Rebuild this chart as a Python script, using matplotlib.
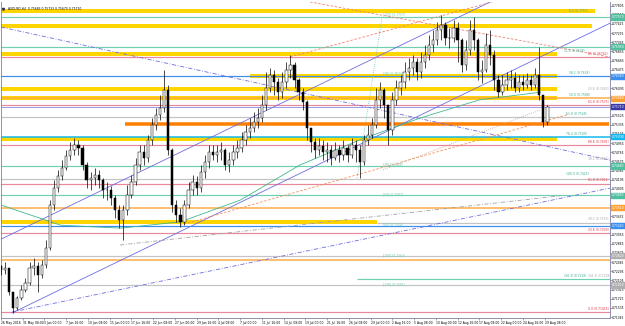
import matplotlib
matplotlib.use('Agg')
import matplotlib.pyplot as plt
import matplotlib.transforms as mtrans
import numpy as np

# ---------------- data ----------------
title_text = "AUDUSD,H4  0.75683 0.75733 0.75670 0.75710"

time_labels = ["26 May 2016", "31 May 08:00", "3 Jun 00:00", "7 Jun 16:00", "10 Jun 08:00",
               "15 Jun 00:00", "17 Jun 16:00", "22 Jun 08:00", "27 Jun 00:00", "29 Jun 16:00",
               "4 Jul 08:00", "7 Jul 00:00", "11 Jul 16:00", "14 Jul 08:00", "19 Jul 00:00",
               "21 Jul 16:00", "26 Jul 08:00", "29 Jul 00:00", "2 Aug 16:00", "5 Aug 08:00",
               "10 Aug 00:00", "12 Aug 16:00", "17 Aug 08:00", "22 Aug 00:00", "24 Aug 16:00",
               "29 Aug 08:00"]
bars_per_label = 16
bars_per_candle = 3

first_open = 0.7240
closes = [0.7232, 0.7236, 0.7187, 0.7153, 0.7174, 0.7191, 0.7205, 0.7236, 0.7240, 0.7222,
          0.7242, 0.7278, 0.7367, 0.7402, 0.7427, 0.7444, 0.7469, 0.7481, 0.7491, 0.7485,
          0.7450, 0.7419, 0.7423, 0.7429, 0.7419, 0.7398, 0.7398, 0.7381, 0.7357, 0.7336,
          0.7357, 0.7388, 0.7415, 0.7450, 0.7477, 0.7464, 0.7502, 0.7533, 0.7554, 0.7568,
          0.7605, 0.7481, 0.7367, 0.7346, 0.7332, 0.7367, 0.7398, 0.7415, 0.7402, 0.7435,
          0.7456, 0.7477, 0.7471, 0.7477, 0.7481, 0.7450, 0.7460, 0.7477, 0.7485, 0.7502,
          0.7518, 0.7527, 0.7539, 0.7547, 0.7574, 0.7610, 0.7637, 0.7622, 0.7601, 0.7622,
          0.7647, 0.7657, 0.7626, 0.7601, 0.7581, 0.7527, 0.7498, 0.7481, 0.7489, 0.7477,
          0.7481, 0.7464, 0.7481, 0.7471, 0.7485, 0.7471, 0.7491, 0.7481, 0.7456, 0.7502,
          0.7512, 0.7533, 0.7585, 0.7605, 0.7574, 0.7522, 0.7585, 0.7610, 0.7622, 0.7643,
          0.7651, 0.7664, 0.7643, 0.7664, 0.7678, 0.7699, 0.7709, 0.7730, 0.7740, 0.7713,
          0.7713, 0.7734, 0.7709, 0.7657, 0.7688, 0.7730, 0.7709, 0.7643, 0.7647, 0.7699,
          0.7678, 0.7626, 0.7601, 0.7616, 0.7626, 0.7630, 0.7610, 0.7622, 0.7616, 0.7626,
          0.7616, 0.7637, 0.7595, 0.7539, 0.7571]
highs = [0.7242, 0.7249, 0.7236, 0.7187, 0.7178, 0.7201, 0.7216, 0.7249, 0.7257, 0.7249,
         0.7253, 0.7294, 0.7377, 0.7419, 0.7440, 0.7460, 0.7481, 0.7498, 0.7506, 0.7502,
         0.7491, 0.7456, 0.7435, 0.7444, 0.7440, 0.7423, 0.7415, 0.7406, 0.7388, 0.7367,
         0.7367, 0.7408, 0.7429, 0.7464, 0.7491, 0.7491, 0.7512, 0.7547, 0.7568, 0.7595,
         0.7647, 0.7616, 0.7485, 0.7377, 0.7361, 0.7377, 0.7415, 0.7429, 0.7427, 0.7450,
         0.7471, 0.7491, 0.7491, 0.7491, 0.7498, 0.7485, 0.7477, 0.7491, 0.7502, 0.7518,
         0.7533, 0.7547, 0.7560, 0.7568, 0.7595, 0.7643, 0.7651, 0.7647, 0.7630, 0.7643,
         0.7664, 0.7678, 0.7664, 0.7630, 0.7610, 0.7585, 0.7527, 0.7506, 0.7506, 0.7502,
         0.7498, 0.7491, 0.7498, 0.7491, 0.7502, 0.7491, 0.7506, 0.7502, 0.7491, 0.7512,
         0.7533, 0.7547, 0.7610, 0.7622, 0.7610, 0.7574, 0.7601, 0.7626, 0.7637, 0.7664,
         0.7672, 0.7678, 0.7672, 0.7684, 0.7699, 0.7720, 0.7730, 0.7746, 0.7761, 0.7746,
         0.7734, 0.7751, 0.7746, 0.7713, 0.7709, 0.7751, 0.7757, 0.7713, 0.7668, 0.7724,
         0.7730, 0.7688, 0.7637, 0.7637, 0.7643, 0.7647, 0.7643, 0.7637, 0.7637, 0.7641,
         0.7637, 0.7651, 0.7695, 0.7595, 0.7574]
lows = [0.7222, 0.7224, 0.7180, 0.7143, 0.7149, 0.7170, 0.7187, 0.7201, 0.7222, 0.7187,
        0.7216, 0.7236, 0.7274, 0.7357, 0.7394, 0.7419, 0.7440, 0.7460, 0.7471, 0.7471,
        0.7440, 0.7402, 0.7398, 0.7408, 0.7402, 0.7381, 0.7377, 0.7367, 0.7340, 0.7319,
        0.7294, 0.7346, 0.7381, 0.7408, 0.7440, 0.7450, 0.7456, 0.7491, 0.7522, 0.7544,
        0.7560, 0.7471, 0.7352, 0.7332, 0.7321, 0.7325, 0.7361, 0.7388, 0.7388, 0.7394,
        0.7423, 0.7444, 0.7460, 0.7456, 0.7460, 0.7440, 0.7435, 0.7450, 0.7464, 0.7477,
        0.7491, 0.7506, 0.7518, 0.7527, 0.7539, 0.7564, 0.7601, 0.7595, 0.7585, 0.7589,
        0.7610, 0.7630, 0.7610, 0.7585, 0.7564, 0.7502, 0.7477, 0.7464, 0.7471, 0.7460,
        0.7456, 0.7450, 0.7460, 0.7456, 0.7460, 0.7456, 0.7464, 0.7456, 0.7423, 0.7450,
        0.7491, 0.7506, 0.7527, 0.7568, 0.7547, 0.7491, 0.7512, 0.7574, 0.7595, 0.7610,
        0.7626, 0.7637, 0.7626, 0.7630, 0.7651, 0.7668, 0.7684, 0.7699, 0.7709, 0.7699,
        0.7693, 0.7705, 0.7664, 0.7643, 0.7647, 0.7678, 0.7688, 0.7626, 0.7620, 0.7643,
        0.7657, 0.7605, 0.7591, 0.7595, 0.7605, 0.7610, 0.7601, 0.7601, 0.7605, 0.7610,
        0.7605, 0.7610, 0.7585, 0.7529, 0.7533]

# slow moving average (bar, price)
ma_bars = [0, 44, 88, 132, 176, 220, 264, 308, 352, 397]
ma_prices = [0.7367, 0.7325, 0.7319, 0.7332, 0.7377, 0.7450, 0.7502, 0.7547, 0.7585, 0.7601]

# price axis
price_tick_start = 0.71345
price_tick_step = 0.0019
y_range = (0.71326, 0.77880)
x_range = (0.0, 448.1)

# horizontal levels  (price, start bar, end bar)
yellow_bands = [(0.7770, 0, 437), (0.7738, 0, 435), (0.7681, 0, 409), (0.7634, 183, 409),
                (0.7607, 0, 409), (0.7588, 0, 409), (0.7504, 0, 409), (0.7331, 0, 277)]
orange_band = [(0.7534, 91, 447)]
teal_levels = [(0.7757, 0, 449), (0.7695, 0, 449), (0.7448, 0, 449), (0.7387, 0, 449),
               (0.7213, 262, 449)]
pink_levels = [0.7674, 0.7574, 0.7491, 0.7411, 0.7309, 0.7145]
blue_levels = [0.7634, 0.7324]
cyan_levels = [0.7509]
orange_levels = [0.7588, 0.7361, 0.7253]
gray_levels = [(0.7550, 0, 449), (0.7421, 0, 449), (0.7262, 0, 449), (0.7201, 0, 449),
               (0.7330, 277, 449)]
current_price = 0.7571

# boxes on the price scale
teal_boxes = [0.7757, 0.7695, 0.7448, 0.7387]
blue_boxes = [0.7634, 0.7324]
orange_boxes = [0.7588, 0.7361]
gray_boxes = [0.7262, 0.7201]
cyan_boxes = [0.7509]

# trend lines ((bar, price), (bar, price))
dashdot_blue = [((0, 0.7736), (448.1, 0.7460)), ((8.1, 0.7145), (448.1, 0.7402))]
solid_blue = [((8.1, 0.7143), (448.1, 0.7744)), ((0, 0.7296), (359.8, 0.7788))]
salmon_dashed = [((227.4, 0.7788), (448.1, 0.7674)), ((212.7, 0.7674), (361.3, 0.7788))]
orange_dashed = [((131.7, 0.7325), (416.5, 0.7554))]
gray_dashdot = [((87.6, 0.7284), (411.3, 0.7386))]
brown_dotted = [((281.1, 0.7440), (396.6, 0.7564))]
teal_dotted = [((262.0, 0.7423), (280.4, 0.7757))]

# text labels in the chart (bar, price, text)
teal_texts = [(418, 0.7765, "0.0 (0.7757)"), (414, 0.7683, "11.6 (0.7678)"),
              (418, 0.7636, "38.2 (0.7634)"), (418, 0.7590, "50.0 (0.7588)"),
              (416, 0.7552, "61.8 (0.7548)"), (416, 0.7511, "76.4 (0.7509)"),
              (416, 0.7428, "100.0 (0.7425)"), (414, 0.7215, "161.8 (0.7218)")]
red_texts = [(432, 0.7677, "R1 (0.76742)"), (432, 0.7577, "61.8 (0.7575)"),
             (432, 0.7494, "88.6 (0.7491)"), (432, 0.7414, "61.8 (0.7411)"),
             (432, 0.7312, "23.6 (0.7309)"), (432, 0.7148, "0.0 (0.71455)")]
gray_texts = [(432, 0.7604, "23.6 (0.7602)"), (432, 0.7458, "38.2 (0.7456)"),
              (432, 0.7333, "38.2 (0.7332)"), (432, 0.7215, "161.8 (0.7218)")]
fibo_texts = [(281, 0.7759, "[100] (0.7757)"), (281, 0.7636, "[38] (0.7634)"),
              (281, 0.7448, "[38] (0.7448)"), (281, 0.7384, "[50] (0.7387)"),
              (281, 0.7322, "[62] (0.7324)"), (281, 0.7259, "[100] (0.7262)"),
              (281, 0.7199, "[138] (0.7201)")]

# ---------------- drawing ----------------
W, H = 625, 326
fig = plt.figure(figsize=(W / 100, H / 100), dpi=100)
fig.patch.set_facecolor('white')
ax = fig.add_axes([1 / W, 8 / H, 609 / W, 316 / H])
ax.set_facecolor('white')
ax.set_xlim(*x_range)
ax.set_ylim(*y_range)

PX = 0.72  # points per pixel
YELLOW = '#FFD500'
TEAL = '#6FCFB0'
PINK = '#E8889A'
BLUE = '#3A8EF0'
CYAN = '#10B8F0'
ORANGE = '#FFAA44'
GRAY = '#C4C4C4'
CHAN = '#6D6DE0'

for p, b0, b1 in yellow_bands:
    ax.hlines(p, b0, b1, color=YELLOW, lw=4 * PX, zorder=1)
for p, b0, b1 in orange_band:
    ax.hlines(p, b0, b1, color='#FF7F00', lw=3.5 * PX, zorder=1)
for p, b0, b1 in teal_levels:
    ax.hlines(p, b0, b1, color=TEAL, lw=1.2 * PX, zorder=2)
for p in pink_levels:
    ax.hlines(p, 0, 449, color=PINK, lw=1.2 * PX, zorder=2)
for p in blue_levels:
    ax.hlines(p, 0, 449, color=BLUE, lw=1.2 * PX, zorder=2)
for p in cyan_levels:
    ax.hlines(p, 0, 449, color=CYAN, lw=1.5 * PX, zorder=2)
for p in orange_levels:
    ax.hlines(p, 0, 449, color=ORANGE, lw=1.5 * PX, zorder=2)
for p, b0, b1 in gray_levels:
    ax.hlines(p, b0, b1, color=GRAY, lw=1.2 * PX, zorder=2)
ax.hlines(current_price, 0, 449, color='#9AA0E8', lw=1.0 * PX, zorder=2)

def draw_lines(lines, color, ls, lw):
    for (b0, p0), (b1, p1) in lines:
        ax.plot([b0, b1], [p0, p1], color=color, ls=ls, lw=lw, zorder=3)

draw_lines(dashdot_blue, CHAN, (0, (5, 2, 1, 2)), 0.6)
draw_lines(solid_blue, CHAN, '-', 0.6)
draw_lines(salmon_dashed, '#F08070', (0, (3, 2)), 0.6)
draw_lines(orange_dashed, '#F09060', (0, (3, 2)), 0.6)
draw_lines(gray_dashdot, '#A0A0A0', (0, (5, 2, 1, 2)), 0.6)
draw_lines(brown_dotted, '#D0A080', (0, (1, 1.5)), 0.6)
draw_lines(teal_dotted, '#60C8C0', (0, (1, 1.5)), 0.6)
ax.plot(ma_bars, ma_prices, color='#40B890', lw=0.6, zorder=3)

# candles
n = len(closes)
xs = np.arange(n) * bars_per_candle
opens = [first_open] + closes[:-1]
ax.vlines(xs, lows, highs, color='black', lw=0.5, zorder=5)
o = np.array(opens)
c = np.array(closes)
bottoms = np.minimum(o, c)
heights = np.maximum(np.abs(c - o), 0.00008)
face = ['white' if cc >= oo else 'black' for oo, cc in zip(o, c)]
ax.bar(xs, heights, bottom=bottoms, width=1.7, color=face, edgecolor='black',
       linewidth=0.35, zorder=6)

# texts
FS = 2.2
for b, p, t in teal_texts:
    ax.text(b, p, t, color='#3AA890', fontsize=FS, va='bottom', ha='left', zorder=7)
for b, p, t in red_texts:
    ax.text(b, p, t, color='#E03040', fontsize=FS, va='bottom', ha='left', zorder=7)
for b, p, t in gray_texts:
    ax.text(b, p, t, color='#A8A8A8', fontsize=FS, va='bottom', ha='left', zorder=7)
for b, p, t in fibo_texts:
    ax.text(b, p, t, color='#70C8B0', fontsize=FS, va='bottom', ha='left', zorder=7)

ax.text(0.012, 0.985, title_text, transform=ax.transAxes, fontsize=FS, va='top',
        ha='left', color='black', zorder=8)
ax.plot([0.004], [0.979], marker='v', ms=1.5, color='#303060', transform=ax.transAxes,
        clip_on=False)

# axes
for s in ['top', 'left']:
    ax.spines[s].set_visible(False)
for s in ['right', 'bottom']:
    ax.spines[s].set_color('#8080A8')
    ax.spines[s].set_linewidth(0.6)
ax.plot([0, 0], [0, 1], transform=ax.transAxes, color='#8080A8', lw=0.6, clip_on=False)

ticks_x = [i * bars_per_label for i in range(len(time_labels))]
ax.set_xticks(ticks_x)
ax.set_xticklabels(time_labels, fontsize=FS, ha='left')
ax.tick_params(axis='x', length=1.5, width=0.4, pad=0.8, color='#606060')

yt = [price_tick_start + i * price_tick_step for i in range(36)]
yt = [v for v in yt if y_range[0] <= v <= y_range[1]]
ax.yaxis.tick_right()
ax.set_yticks(yt)
ax.set_yticklabels(["%.5f" % v for v in yt], fontsize=FS)
ax.tick_params(axis='y', length=1.2, width=0.4, pad=0.4, color='#606060')

trans = mtrans.blended_transform_factory(ax.transAxes, ax.transData)

def box(p, color, tcolor='white'):
    ax.text(1.003, p, "%.5f" % p, transform=trans, fontsize=FS, color=tcolor, va='center',
            ha='left', clip_on=False, zorder=9,
            bbox=dict(boxstyle='square,pad=0.2', facecolor=color, edgecolor=color))

for p in teal_boxes:
    box(p, '#50C0A0')
for p in blue_boxes:
    box(p, BLUE)
for p in orange_boxes:
    box(p, '#FFA030')
for p in gray_boxes:
    box(p, '#B0B0B0')
for p in cyan_boxes:
    box(p, CYAN)
box(current_price, '#3838A8')

fig.savefig('out.png', dpi=100, facecolor='white')
